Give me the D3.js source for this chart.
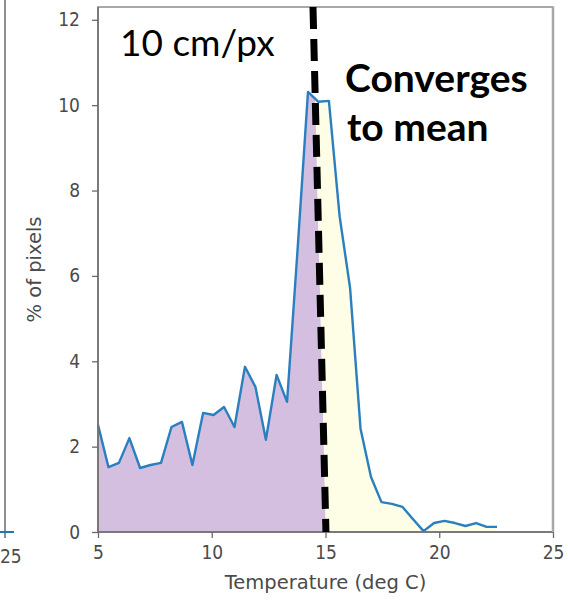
<!DOCTYPE html>
<html>
<head>
<meta charset="utf-8">
<script src="https://cdn.jsdelivr.net/npm/d3@7"></script>
<style>
  html, body { margin: 0; padding: 0; background: #fff; }
  svg { display: block; }
</style>
</head>
<body>
<svg id="chart" width="568" height="603"></svg>
<script>
// Histogram bin centres (deg C) and share of pixels in each bin (%)
const temperature = [
  5.00, 5.46, 5.92, 6.38, 6.85, 7.31, 7.77, 8.23, 8.69, 9.15,
  9.62, 10.08, 10.54, 11.00, 11.46, 11.92, 12.38, 12.85, 13.31, 13.77,
  14.23, 14.69, 15.15, 15.62, 16.08, 16.54, 17.00, 17.46, 17.92, 18.38,
  18.85, 19.31, 19.77, 20.23, 20.69, 21.15, 21.62, 22.08, 22.54
];
const pctPixels = [
  2.51, 1.52, 1.62, 2.20, 1.50, 1.57, 1.62, 2.46, 2.58, 1.57,
  2.79, 2.74, 2.93, 2.46, 3.87, 3.40, 2.16, 3.68, 3.05, 6.60,
  10.31, 10.08, 10.10, 7.40, 5.72, 2.42, 1.29, 0.70, 0.66, 0.59,
  0.30, 0.02, 0.21, 0.26, 0.21, 0.14, 0.21, 0.12, 0.12
];
const xTicks = [5, 10, 15, 20, 25];
const yTicks = [0, 2, 4, 6, 8, 10, 12];

// Mean marker, drawn in data units from its top end to its foot
const meanTop = [14.45, 12.3];
const meanFoot = [15.02, 0];

const svg = d3.select("#chart");
const W = 568, H = 603;

const x = d3.scaleLinear().domain([5, 25]).range([98, 553]);
const y = d3.scaleLinear().domain([0, 12.3]).range([532, 7]);

const axisColor = "#6b6b6b";
const labelColor = "#4a4a4a";
const tickFont = "'DejaVu Sans Condensed', 'DejaVu Sans', sans-serif";
const labelFont = "'DejaVu Sans', sans-serif";
const noteFont = "Lato, 'Open Sans', sans-serif";

// Edge of the neighbouring panel on the left
svg.append("line")
  .attr("x1", 5).attr("x2", 5).attr("y1", 0).attr("y2", 538)
  .attr("stroke", axisColor).attr("stroke-width", 1.5);
svg.append("line")
  .attr("x1", 0).attr("x2", 14).attr("y1", 532).attr("y2", 532)
  .attr("stroke", "#1f77b4").attr("stroke-width", 2);
svg.append("text")
  .attr("x", 0).attr("y", 563)
  .attr("font-family", tickFont).attr("font-stretch", "condensed")
  .attr("font-size", 19)
  .attr("fill", labelColor)
  .text("25");

const data = temperature.map((t, i) => ({ t, v: pctPixels[i] }));

// Clip regions either side of the mean marker
const defs = svg.append("defs");
const topX = x(meanTop[0]), footX = x(meanFoot[0]);
const slopeAt = yy => topX + (footX - topX) * (yy - y(meanTop[1])) / (y(meanFoot[1]) - y(meanTop[1]));
const y0 = -20, y1 = H + 20;
defs.append("clipPath").attr("id", "leftOfMean")
  .append("polygon")
  .attr("points", [[0, y0], [slopeAt(y0), y0], [slopeAt(y1), y1], [0, y1]].map(p => p.join(",")).join(" "));
defs.append("clipPath").attr("id", "rightOfMean")
  .append("polygon")
  .attr("points", [[slopeAt(y0), y0], [W, y0], [W, y1], [slopeAt(y1), y1]].map(p => p.join(",")).join(" "));

const area = d3.area()
  .x(d => x(d.t))
  .y0(y(0))
  .y1(d => y(d.v));

svg.append("path")
  .datum(data)
  .attr("d", area)
  .attr("fill", "#d5bfe1")
  .attr("clip-path", "url(#leftOfMean)");
svg.append("path")
  .datum(data)
  .attr("d", area)
  .attr("fill", "#fefee6")
  .attr("clip-path", "url(#rightOfMean)");

const line = d3.line()
  .x(d => x(d.t))
  .y(d => y(d.v));
svg.append("path")
  .datum(data)
  .attr("d", line)
  .attr("fill", "none")
  .attr("stroke", "#2a7fbf")
  .attr("stroke-width", 2.4)
  .attr("stroke-linejoin", "round");

// Frame
svg.append("rect")
  .attr("x", x(5)).attr("y", y(12.3))
  .attr("width", x(25) - x(5)).attr("height", y(0) - y(12.3))
  .attr("fill", "none")
  .attr("stroke", "#8c8c8c").attr("stroke-width", 1.5);
svg.append("line")
  .attr("x1", x(5)).attr("x2", x(5)).attr("y1", y(12.3)).attr("y2", y(0))
  .attr("stroke", axisColor).attr("stroke-width", 1.5);
svg.append("line")
  .attr("x1", x(5)).attr("x2", x(25)).attr("y1", y(0)).attr("y2", y(0))
  .attr("stroke", axisColor).attr("stroke-width", 1.5);
svg.append("line")
  .attr("x1", x(25)).attr("x2", x(25)).attr("y1", y(12.3)).attr("y2", y(0))
  .attr("stroke", "#a8a8a8").attr("stroke-width", 2.5);

// Axes
const xAxis = d3.axisBottom(x).tickValues(xTicks).tickSize(6).tickPadding(8);
const yAxis = d3.axisLeft(y).tickValues(yTicks).tickSize(6).tickPadding(12);

const gx = svg.append("g").attr("transform", `translate(0,${y(0)})`).call(xAxis);
const gy = svg.append("g").attr("transform", `translate(${x(5)},0)`).call(yAxis);
[gx, gy].forEach(g => {
  g.select(".domain").remove();
  g.selectAll(".tick line").attr("stroke", axisColor).attr("stroke-width", 1.3);
  g.selectAll(".tick text")
    .attr("font-family", tickFont).attr("font-stretch", "condensed")
    .attr("font-size", 19)
    .attr("fill", labelColor);
});

svg.append("text")
  .attr("x", x(15)).attr("y", 589)
  .attr("text-anchor", "middle")
  .attr("font-family", labelFont).attr("font-size", 19.5)
  .attr("fill", labelColor)
  .text("Temperature (deg C)");

svg.append("text")
  .attr("transform", `translate(41,${y(6.15)}) rotate(-90)`)
  .attr("text-anchor", "middle")
  .attr("font-family", labelFont).attr("font-size", 19.5)
  .attr("fill", labelColor)
  .text("% of pixels");

// Mean marker
svg.append("line")
  .attr("x1", x(meanTop[0])).attr("y1", y(meanTop[1]))
  .attr("x2", x(meanFoot[0])).attr("y2", y(meanFoot[1]))
  .attr("stroke", "#000").attr("stroke-width", 7)
  .attr("stroke-dasharray", "22 10");

// Annotations
svg.append("text")
  .attr("x", 120).attr("y", 56)
  .attr("font-family", noteFont).attr("font-size", 37)
  .attr("fill", "#000")
  .text("10 cm/px");
const note = svg.append("text")
  .attr("font-family", noteFont).attr("font-size", 39)
  .attr("font-weight", "bold")
  .attr("fill", "#000");
note.append("tspan").attr("x", 345).attr("y", 92).text("Converges");
note.append("tspan").attr("x", 347).attr("y", 141).text("to mean");
</script>
</body>
</html>
